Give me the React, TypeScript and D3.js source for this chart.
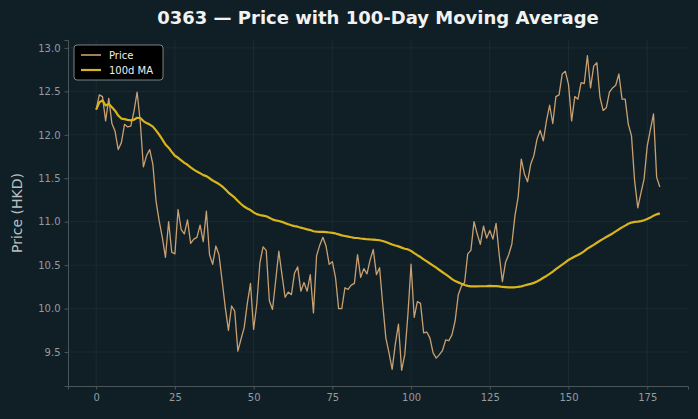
import * as d3 from "d3";
import { useEffect, useRef } from "react";

// closing price per trading day (index 0..179)
const price = [
  12.29, 12.46, 12.44, 12.16, 12.42, 12.13, 12.04, 11.83, 11.91, 12.12,
  12.09, 12.10, 12.27, 12.49, 12.15, 11.63, 11.76, 11.83, 11.66, 11.24,
  11.01, 10.82, 10.59, 11.00, 10.65, 10.63, 11.14, 10.91, 10.86, 11.02,
  10.75, 10.80, 10.82, 10.96, 10.77, 11.12, 10.62, 10.51, 10.72, 10.62,
  10.32, 10.01, 9.75, 10.03, 9.97, 9.51, 9.65, 9.78, 10.06, 10.29,
  9.76, 10.05, 10.53, 10.71, 10.67, 10.09, 9.99, 10.32, 10.66, 10.39,
  10.13, 10.19, 10.16, 10.41, 10.48, 10.20, 10.30, 10.20, 10.39, 9.95,
  10.61, 10.73, 10.82, 10.72, 10.51, 10.54, 10.36, 10.00, 10.00, 10.24,
  10.22, 10.27, 10.29, 10.62, 10.36, 10.46, 10.40, 10.56, 10.68, 10.39,
  10.47, 10.05, 9.66, 9.49, 9.30, 9.59, 9.82, 9.29, 9.47, 9.93,
  10.51, 9.90, 10.08, 10.06, 9.72, 9.73, 9.66, 9.49, 9.43, 9.47,
  9.52, 9.64, 9.63, 9.70, 9.86, 10.16, 10.26, 10.30, 10.63, 10.67,
  11.00, 10.86, 10.74, 10.95, 10.81, 10.90, 10.80, 10.98, 10.62, 10.31,
  10.53, 10.62, 10.74, 11.07, 11.28, 11.72, 11.55, 11.46, 11.66, 11.76,
  11.95, 12.05, 11.93, 12.16, 12.34, 12.13, 12.44, 12.46, 12.70, 12.73,
  12.58, 12.16, 12.44, 12.41, 12.60, 12.59, 12.91, 12.54, 12.79, 12.83,
  12.43, 12.28, 12.31, 12.49, 12.54, 12.57, 12.70, 12.41, 12.41, 12.12,
  11.99, 11.47, 11.16, 11.33, 11.49, 11.87, 12.06, 12.24, 11.51, 11.40,
];
const maWindow = 100;
const xTicks = [0, 25, 50, 75, 100, 125, 150, 175];
const yTicks = [9.5, 10.0, 10.5, 11.0, 11.5, 12.0, 12.5, 13.0];

// rolling mean, min_periods = 1
const movingAvg = price.map((_, i) => {
  const s = price.slice(Math.max(0, i - maWindow + 1), i + 1);
  return d3.mean(s) as number;
});

const W = 698;
const H = 419;
const margin = { top: 40, right: 10, bottom: 33, left: 68 };
const bg = "#101f26";
const font = "DejaVu Sans, sans-serif";

function App() {
  const ref = useRef<SVGGElement | null>(null);
  const width = W - margin.left - margin.right;
  const height = H - margin.top - margin.bottom;

  const n = price.length - 1;
  const padX = n * 0.05;
  const x = d3.scaleLinear().domain([-padX, n + padX]).range([0, width]);
  const lo = d3.min(price) as number;
  const hi = d3.max(price) as number;
  const padY = (hi - lo) * 0.05;
  const y = d3.scaleLinear().domain([lo - padY, hi + padY]).range([height, 0]);

  useEffect(() => {
    if (!ref.current) return;
    const g = d3.select(ref.current);
    g.selectAll("*").remove();

    // grid
    g.append("g")
      .selectAll("line.gx")
      .data(xTicks)
      .join("line")
      .attr("x1", (d) => x(d)).attr("x2", (d) => x(d))
      .attr("y1", 0).attr("y2", height)
      .attr("stroke", "#1d2d34").attr("stroke-width", 0.8);
    g.append("g")
      .selectAll("line.gy")
      .data(yTicks)
      .join("line")
      .attr("x1", 0).attr("x2", width)
      .attr("y1", (d) => y(d)).attr("y2", (d) => y(d))
      .attr("stroke", "#1d2d34").attr("stroke-width", 0.8);

    const xAxis = g.append("g")
      .attr("transform", `translate(0,${height})`)
      .call(d3.axisBottom(x).tickValues(xTicks).tickFormat(d3.format("d")).tickSizeOuter(0).tickSize(3.5).tickPadding(4));
    const yAxis = g.append("g")
      .call(d3.axisLeft(y).tickValues(yTicks).tickFormat(d3.format(".1f")).tickSizeOuter(0).tickSize(3.5).tickPadding(4));
    for (const ax of [xAxis, yAxis]) {
      ax.select(".domain").attr("stroke", "#4a555a");
      ax.selectAll(".tick line").attr("stroke", "#4a555a");
      ax.selectAll(".tick text")
        .attr("fill", "#939b9f")
        .style("font-family", font)
        .style("font-size", "10px");
    }

    const line = d3.line<number>().x((_, i) => x(i)).y((d) => y(d));
    g.append("path")
      .datum(price)
      .attr("d", line)
      .attr("fill", "none")
      .attr("stroke", "#c9a071")
      .attr("stroke-width", 1.3)
      .attr("stroke-linejoin", "round");
    g.append("path")
      .datum(movingAvg)
      .attr("d", line)
      .attr("fill", "none")
      .attr("stroke", "#d9b41c")
      .attr("stroke-width", 2.2)
      .attr("stroke-linejoin", "round");

    // legend
    const lg = g.append("g").attr("transform", "translate(6,5)");
    lg.append("rect")
      .attr("width", 89).attr("height", 35).attr("rx", 3)
      .attr("fill", "#000").attr("stroke", "#9aa0a3").attr("stroke-width", 0.8);
    const items = [
      { label: "Price", color: "#c9a071", w: 1.6 },
      { label: "100d MA", color: "#d9b41c", w: 2.2 },
    ];
    items.forEach((it, i) => {
      const yy = 10 + i * 15;
      lg.append("line")
        .attr("x1", 7).attr("x2", 27).attr("y1", yy).attr("y2", yy)
        .attr("stroke", it.color).attr("stroke-width", it.w);
      lg.append("text")
        .attr("x", 35).attr("y", yy).attr("dy", "0.35em")
        .attr("fill", "#eeeeee")
        .style("font-family", font).style("font-size", "10px")
        .text(it.label);
    });
  }, []);

  return (
    <svg width={W} height={H} style={{ display: "block", position: "absolute", left: 0, top: 0, background: bg }}>
      <rect width={W} height={H} fill={bg} />
      <text x={margin.left + width / 2} y={24} textAnchor="middle" fill="#f2f2f2"
        style={{ fontFamily: font, fontSize: "18px", fontWeight: "bold" }}>
        0363 — Price with 100-Day Moving Average
      </text>
      <text transform={`translate(22,${margin.top + height / 2}) rotate(-90)`} textAnchor="middle"
        fill="#b9c0c3" style={{ fontFamily: font, fontSize: "14px" }}>
        Price (HKD)
      </text>
      <g ref={ref} transform={`translate(${margin.left},${margin.top})`} />
    </svg>
  );
}

export default App;
